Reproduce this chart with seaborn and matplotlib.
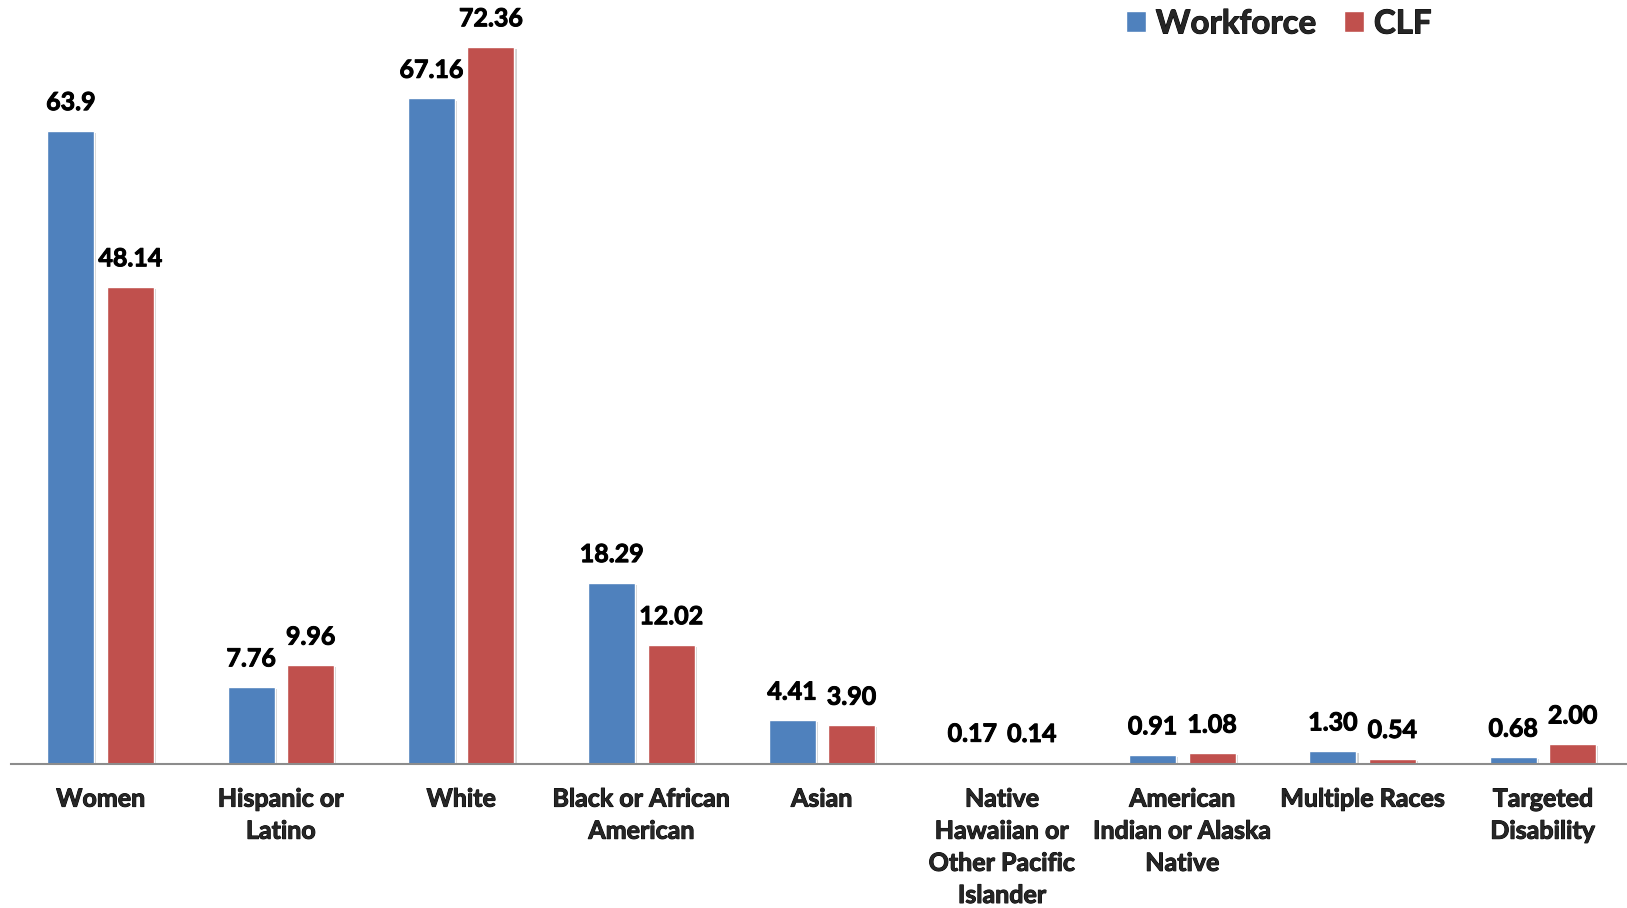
import pandas as pd
import seaborn as sns
import matplotlib.pyplot as plt
import matplotlib.patheffects as pe
from matplotlib.patches import Patch

categories = ['Women', 'Hispanic or\nLatino', 'White', 'Black or African\nAmerican', 'Asian',
              'Native\nHawaiian or\nOther Pacific\nIslander', 'American\nIndian or Alaska\nNative',
              'Multiple Races', 'Targeted\nDisability']
workforce = [63.9, 7.76, 67.16, 18.29, 4.41, 0.17, 0.91, 1.30, 0.68]
clf = [48.14, 9.96, 72.36, 12.02, 3.90, 0.14, 1.08, 0.54, 2.00]
workforce_labels = ['63.9', '7.76', '67.16', '18.29', '4.41', '0.17', '0.91', '1.30', '0.68']
clf_labels = ['48.14', '9.96', '72.36', '12.02', '3.90', '0.14', '1.08', '0.54', '2.00']
series = ['Workforce', 'CLF']
colors = ['#4F81BD', '#C0504D']

df = pd.DataFrame({
    'category': categories * 2,
    'value': workforce + clf,
    'series': ['Workforce'] * len(categories) + ['CLF'] * len(categories),
})

sns.set_style('white')
plt.rcParams['font.family'] = ['Lato', 'DejaVu Sans']
plt.rcParams['font.weight'] = 'bold'

# slight stroke so the bold text looks as heavy as the original
heavy = [pe.withStroke(linewidth=0.7, foreground='black')]

fig = plt.figure(figsize=(16.27, 9.08), dpi=100)
ax = fig.add_axes([10.5 / 1627, 144 / 908, 1622.6 / 1627, 764 / 908])

sns.barplot(data=df, x='category', y='value', hue='series', palette=colors,
            order=categories, hue_order=series, width=0.66, gap=0.21,
            saturation=1, legend=False, ax=ax)

shadow = [pe.SimplePatchShadow(offset=(1.5, -1.5), shadow_rgbFace='gray', alpha=0.35), pe.Normal()]
for bar in ax.patches:
    bar.set_path_effects(shadow)

for cont, labels in zip(ax.containers, [workforce_labels, clf_labels]):
    txts = ax.bar_label(cont, labels=labels, padding=12, fontsize=18, fontweight='bold', color='black')
    for t in txts:
        t.set_path_effects(heavy)

ax.set_xlim(-0.5, len(categories) - 0.5)
ax.set_ylim(0, 77.1)
ax.set_xlabel('')
ax.set_ylabel('')
ax.set_yticks([])
ax.tick_params(axis='x', length=0, pad=17)
for lbl in ax.get_xticklabels():
    lbl.set_fontsize(18)
    lbl.set_fontweight('bold')
    lbl.set_linespacing(1.48)
    lbl.set_verticalalignment('top')
    lbl.set_path_effects(heavy)

for s in ['top', 'left', 'right']:
    ax.spines[s].set_visible(False)
ax.spines['bottom'].set_color('#8C8C8C')
ax.spines['bottom'].set_linewidth(1.5)

handles = [Patch(facecolor=c, label=s) for c, s in zip(colors, series)]
leg = fig.legend(handles=handles, loc='center left', bbox_to_anchor=(1126 / 1627, 1 - 24 / 908),
                 bbox_transform=fig.transFigure, ncol=2, frameon=False,
                 handlelength=0.6, handleheight=0.6, handletextpad=0.3, columnspacing=0.85,
                 borderpad=0, borderaxespad=0, prop={'weight': 'bold', 'size': 23.8})
for t in leg.get_texts():
    t.set_path_effects(heavy)

fig.savefig('out.png', dpi=100)
